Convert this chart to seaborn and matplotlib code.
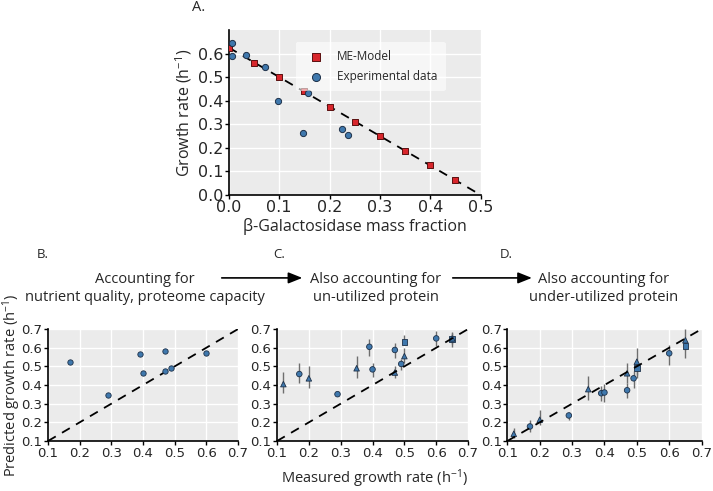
import numpy as np
import pandas as pd
import matplotlib
matplotlib.use('Agg')
import matplotlib.pyplot as plt
import seaborn as sns

# ---- panel A data ----
me_frac = [0.0, 0.05, 0.10, 0.15, 0.20, 0.25, 0.30, 0.35, 0.40, 0.45]
me_rate = [0.625, 0.56, 0.50, 0.44, 0.375, 0.31, 0.25, 0.188, 0.125, 0.062]
exp_frac = [0.007, 0.007, 0.035, 0.071, 0.097, 0.158, 0.148, 0.225, 0.236]
exp_rate = [0.645, 0.59, 0.595, 0.543, 0.398, 0.432, 0.262, 0.279, 0.253]
fit_x = [0.0, 0.5]
fit_y = [0.625, 0.0]

# ---- panel B data ----
b_meas = [0.17, 0.29, 0.39, 0.40, 0.47, 0.47, 0.49, 0.60]
b_pred = [0.523, 0.344, 0.565, 0.466, 0.581, 0.475, 0.49, 0.57]

# ---- panel C data ----
c_meas = [0.12, 0.17, 0.20, 0.29, 0.35, 0.39, 0.40, 0.47, 0.47, 0.49, 0.50, 0.50, 0.60, 0.65, 0.65]
c_pred = [0.405, 0.459, 0.436, 0.351, 0.49, 0.605, 0.484, 0.588, 0.467, 0.513, 0.632, 0.555, 0.65, 0.646, 0.65]
c_lo = [0.36, 0.41, 0.386, 0.341, 0.44, 0.557, 0.445, 0.547, 0.436, 0.48, 0.614, 0.52, 0.61, 0.605, 0.62]
c_hi = [0.468, 0.52, 0.504, 0.361, 0.554, 0.646, 0.52, 0.628, 0.50, 0.538, 0.668, 0.60, 0.69, 0.685, 0.68]
c_kind = ['tri', 'circ', 'tri', 'circ', 'tri', 'circ', 'circ', 'circ', 'tri', 'circ', 'sq', 'tri', 'circ', 'sq', 'tri']

# ---- panel D data ----
d_meas = [0.12, 0.17, 0.20, 0.29, 0.35, 0.39, 0.40, 0.47, 0.47, 0.49, 0.50, 0.50, 0.60, 0.65, 0.65]
d_pred = [0.139, 0.178, 0.214, 0.237, 0.378, 0.356, 0.36, 0.463, 0.372, 0.436, 0.525, 0.49, 0.57, 0.64, 0.61]
d_lo = [0.116, 0.148, 0.187, 0.214, 0.32, 0.315, 0.308, 0.41, 0.333, 0.386, 0.455, 0.44, 0.51, 0.59, 0.547]
d_hi = [0.17, 0.214, 0.267, 0.255, 0.45, 0.397, 0.404, 0.516, 0.41, 0.475, 0.597, 0.516, 0.614, 0.70, 0.65]
d_kind = ['tri', 'circ', 'tri', 'circ', 'tri', 'circ', 'circ', 'tri', 'circ', 'circ', 'tri', 'sq', 'circ', 'tri', 'sq']

diag = [0.1, 0.7]
ticks_b = [0.1, 0.2, 0.3, 0.4, 0.5, 0.6, 0.7]

sns.set_style('darkgrid', {'axes.facecolor': '#ebebeb', 'grid.color': 'white',
                           'axes.edgecolor': 'black'})
plt.rcParams['font.family'] = ['Open Sans', 'DejaVu Sans']
plt.rcParams['mathtext.default'] = 'regular'

BLUE = '#3f78ad'
EDGE = '#1d3048'
RED = '#d8262c'
markers = {'circ': 'o', 'tri': '^', 'sq': 's'}

fig = plt.figure(figsize=(7.13, 4.91), dpi=100)


def style_ax(ax, fs):
    for s in ['top', 'right']:
        ax.spines[s].set_visible(False)
    for s in ['left', 'bottom']:
        ax.spines[s].set_visible(True)
        ax.spines[s].set_color('black')
        ax.spines[s].set_linewidth(1.2)
    ax.tick_params(axis='both', which='both', direction='out', length=3, width=1,
                   color='black', labelsize=fs, pad=1, bottom=True, left=True)
    for lab in ax.get_xticklabels() + ax.get_yticklabels():
        lab.set_fontfamily('DejaVu Sans')
    ax.grid(True, color='white', linewidth=1)


# ---- panel A ----
axA = fig.add_axes([0.321, 0.603, 0.353, 0.336])
axA.plot(fit_x, fit_y, color='black', linestyle=(0, (5, 4)), linewidth=1.3, zorder=2)
sns.scatterplot(x=me_frac, y=me_rate, marker='s', s=20, color=RED, edgecolor='#5a1010',
                linewidth=0.7, ax=axA, zorder=3, label='ME-Model')
sns.scatterplot(x=exp_frac, y=exp_rate, marker='o', s=20, color=BLUE, edgecolor=EDGE,
                linewidth=0.7, ax=axA, zorder=4, label='Experimental data')
axA.set_xlim(0, 0.5)
axA.set_ylim(0, 0.7)
axA.set_xticks([0.0, 0.1, 0.2, 0.3, 0.4, 0.5])
axA.set_yticks([0.0, 0.1, 0.2, 0.3, 0.4, 0.5, 0.6])
axA.set_xticklabels(['0.0', '0.1', '0.2', '0.3', '0.4', '0.5'])
axA.set_yticklabels(['0.0', '0.1', '0.2', '0.3', '0.4', '0.5', '0.6'])
style_ax(axA, 11.5)
axA.set_xlabel('β-Galactosidase mass fraction', fontsize=11.5, labelpad=2)
axA.set_ylabel('Growth rate (h$^{-1}$)', fontsize=11.5, labelpad=3)
leg = axA.legend(loc='upper right', bbox_to_anchor=(0.885, 0.965), fontsize=8.5,
                 frameon=True, framealpha=0.6, edgecolor='none', facecolor='white',
                 markerscale=1.3, handletextpad=0.8, borderpad=0.7, labelspacing=0.6)
fig.text(0.269, 0.984, 'A.', fontsize=10.5, va='center', ha='left')

# ---- panels B, C, D ----
pos = [[0.0673, 0.1018, 0.2665, 0.228],
       [0.3885, 0.1018, 0.268, 0.228],
       [0.7115, 0.1018, 0.2725, 0.228]]
axes = [fig.add_axes(p) for p in pos]

axB, axC, axD = axes
axB.plot(diag, diag, color='black', linestyle=(0, (5, 4)), linewidth=1.3, zorder=2)
sns.scatterplot(x=b_meas, y=b_pred, marker='o', s=15, color=BLUE, edgecolor=EDGE,
                linewidth=0.6, ax=axB, zorder=4)

for ax, mx, py, lo, hi, kind in [(axC, c_meas, c_pred, c_lo, c_hi, c_kind),
                                 (axD, d_meas, d_pred, d_lo, d_hi, d_kind)]:
    df = pd.DataFrame({'meas': mx, 'pred': py, 'lo': lo, 'hi': hi, 'kind': kind})
    ax.plot(diag, diag, color='black', linestyle=(0, (5, 4)), linewidth=1.3, zorder=5)
    ax.errorbar(df['meas'], df['pred'],
                yerr=[df['pred'] - df['lo'], df['hi'] - df['pred']],
                fmt='none', ecolor='#6e6e6e', elinewidth=1.0, capsize=0, zorder=3)
    sns.scatterplot(data=df, x='meas', y='pred', style='kind', markers=markers, s=16,
                    color=BLUE, edgecolor=EDGE, linewidth=0.6, ax=ax, zorder=4, legend=False)

for ax in axes:
    ax.set_xlim(0.1, 0.7)
    ax.set_ylim(0.1, 0.7)
    ax.set_xticks(ticks_b)
    ax.set_yticks(ticks_b)
    ax.set_xticklabels([f'{t:.1f}' for t in ticks_b])
    ax.set_yticklabels([f'{t:.1f}' for t in ticks_b])
    ax.set_xlabel('')
    ax.set_ylabel('')
    style_ax(ax, 9.5)

# headers
fig.text(0.051, 0.482, 'B.', fontsize=9.5, va='center', ha='left')
fig.text(0.383, 0.482, 'C.', fontsize=9.5, va='center', ha='left')
fig.text(0.701, 0.482, 'D.', fontsize=9.5, va='center', ha='left')
fig.text(0.203, 0.413, 'Accounting for\nnutrient quality, proteome capacity',
         fontsize=10.5, ha='center', va='center', linespacing=1.25)
fig.text(0.527, 0.413, 'Also accounting for\nun-utilized protein',
         fontsize=10.5, ha='center', va='center', linespacing=1.25)
fig.text(0.847, 0.413, 'Also accounting for\nunder-utilized protein',
         fontsize=10.5, ha='center', va='center', linespacing=1.25)
for x0, x1 in [(0.311, 0.424), (0.635, 0.746)]:
    fig.add_artist(matplotlib.patches.FancyArrowPatch(
        (x0, 0.434), (x1, 0.434), transform=fig.transFigure,
        arrowstyle='-|>,head_length=0.7,head_width=0.28', color='black', linewidth=1.2,
        mutation_scale=12, shrinkA=0, shrinkB=0))

fig.text(0.017, 0.215, 'Predicted growth rate (h$^{-1}$)', fontsize=10.5,
         rotation=90, ha='center', va='center')
fig.text(0.525, 0.026, 'Measured growth rate (h$^{-1}$)', fontsize=10.5,
         ha='center', va='center')

fig.savefig('out.png', dpi=100)
